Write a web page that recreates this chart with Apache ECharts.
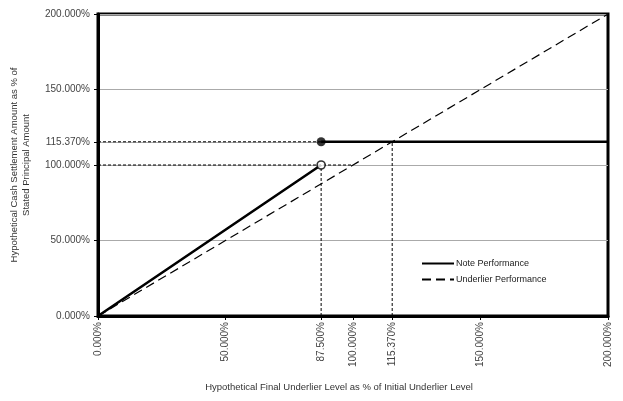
<!DOCTYPE html>
<html><head><meta charset="utf-8">
<script src="https://cdn.jsdelivr.net/npm/echarts@6/dist/echarts.min.js"></script>
<style>html,body{margin:0;padding:0;background:#fff}#c{width:623px;height:401px}</style>
</head><body><div id="c"></div>
<script>
const xTicks = [0, 50, 87.5, 100, 115.37, 150, 200];
const yTicks = [0, 50, 100, 115.37, 150, 200];
const notePart1 = [[0, 0], [87.5, 100]];
const notePart2 = [[87.5, 115.37], [200, 115.37]];
const underlier = [[0, 0], [200, 200]];
const openDot = [[87.5, 100]];
const filledDot = [[87.5, 115.37]];
const refLines = [
  [[0, 115.37], [87.5, 115.37]],
  [[0, 100], [100, 100]],
  [[87.5, 0], [87.5, 100]],
  [[115.37, 0], [115.37, 115.37]]
];

const fmt = v => v.toFixed(3) + '%';
const chart = echarts.init(document.getElementById('c'));
const series = [];
refLines.forEach(seg => series.push({
  type: 'line', data: seg, symbol: 'none', silent: true, z: 3,
  lineStyle: { color: '#000', width: 1, type: [3, 2] }
}));
series.push({
  name: 'Underlier Performance', type: 'line', data: underlier, symbol: 'none', z: 4,
  lineStyle: { color: '#000', width: 1.2, type: [9, 5] }, itemStyle: { color: '#000' }
});
series.push({
  name: 'Note Performance', type: 'line',
  data: notePart1.concat([[87.5, '-']]).concat(notePart2),
  symbol: 'none', z: 5, connectNulls: false,
  lineStyle: { color: '#000', width: 2.6 }, itemStyle: { color: '#000' }
});
series.push({
  type: 'scatter', data: openDot, symbol: 'circle', symbolSize: 8, z: 6,
  itemStyle: { color: '#fff', borderColor: '#000', borderWidth: 1.6 }
});
series.push({
  type: 'scatter', data: filledDot, symbol: 'circle', symbolSize: 9, z: 6,
  itemStyle: { color: '#000' }
});

chart.setOption({
  animation: false,
  grid: { left: 98, right: 15, top: 14, bottom: 85, show: true, borderColor: '#000', borderWidth: 3 },
  legend: {
    orient: 'vertical', left: 416, top: 254, itemGap: 7, itemWidth: 32, itemHeight: 10,
    data: ['Note Performance', 'Underlier Performance'],
    itemStyle: { opacity: 0 },
    textStyle: { fontFamily: 'Liberation Sans Narrow, Arial', fontSize: 9, color: '#222', padding: [0, 0, 0, -3] }
  },
  xAxis: {
    type: 'value', min: 0, max: 200,
    name: 'Hypothetical Final Underlier Level as % of Initial Underlier Level',
    nameLocation: 'middle', nameGap: 66,
    nameTextStyle: { fontFamily: 'Arial', fontSize: 9.5, color: '#333', padding: [0, 28, 0, 0] },
    axisLine: { show: true, lineStyle: { color: '#000', width: 3 } },
    axisTick: { show: true, customValues: xTicks, length: 4, lineStyle: { color: '#000' } },
    axisLabel: { customValues: xTicks, rotate: 90, formatter: fmt, margin: 6,
      fontFamily: 'Arial', fontSize: 10, color: '#444' },
    splitLine: { show: false }
  },
  yAxis: {
    type: 'value', min: 0, max: 200, interval: 50,
    name: 'Hypothetical Cash Settlement Amount as % of\nStated Principal Amount',
    nameLocation: 'middle', nameGap: 66, nameRotate: 90,
    nameTextStyle: { fontFamily: 'Arial', fontSize: 9.5, color: '#333', lineHeight: 11.5 },
    axisLine: { show: true, lineStyle: { color: '#000', width: 3 } },
    axisTick: { show: true, customValues: yTicks, length: 4, lineStyle: { color: '#000' } },
    axisLabel: { customValues: yTicks, formatter: fmt, margin: 8,
      fontFamily: 'Arial', fontSize: 10, color: '#444' },
    splitLine: { show: true, lineStyle: { color: '#aaa', width: 1 } }
  },
  series: series
});
</script></body></html>
